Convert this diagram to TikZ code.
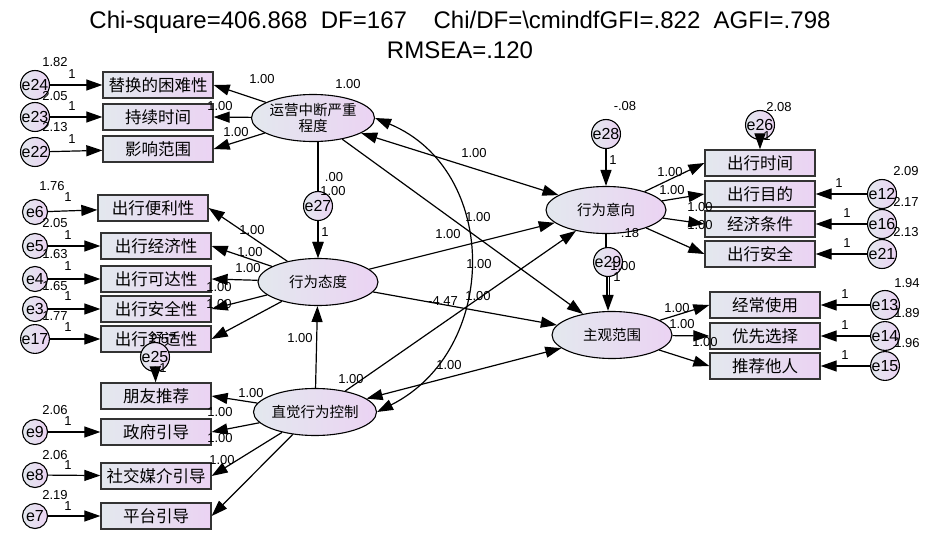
\documentclass[tikz,border=0pt]{standalone}
\usepackage{fontspec}
\setmainfont{Liberation Sans}
\newfontfamily\cjk{Noto Sans CJK SC}
\usetikzlibrary{arrows.meta,shapes.geometric}
\definecolor{gl}{HTML}{E3E8EE}
\definecolor{gr}{HTML}{EBD3F3}
\tikzset{
 x=1pt,y=-1pt,
 box/.style={draw=black!80,line width=1.3pt,minimum width=110,minimum height=26,inner sep=0pt,left color=gl,right color=gr,font=\cjk\fontsize{16.5}{17}\selectfont},
 lat/.style={ellipse,draw,line width=1.1pt,minimum width=120,minimum height=47,inner sep=0pt,align=center,left color=gl,right color=gr,font=\cjk\fontsize{14.5}{16}\selectfont},
 err/.style={circle,draw,line width=1.1pt,minimum size=25,inner sep=0pt,left color=gl,right color=gr,font=\fontsize{16}{16}\selectfont},
 serr/.style={circle,draw,line width=1.1pt,minimum size=15,inner sep=0pt,left color=gl,right color=gr,font=\fontsize{16}{16}\selectfont},
 num/.style={font=\fontsize{13}{13}\selectfont,inner sep=0pt},
 arr/.style={line width=1.2pt,-{Triangle[length=16pt,width=11pt]}},
 darr/.style={line width=1.2pt,{Triangle[length=16pt,width=11pt]}-{Triangle[length=16pt,width=11pt]}}
}
\begin{document}
\begin{tikzpicture}
\useasboundingbox (0,0) rectangle (938,546);
\node[font=\fontsize{24}{24}\selectfont] (t1) at (460,22) {Chi-square=406.868\ \ DF=167\ \ \ \ Chi/DF=\textbackslash cmindfGFI=.822\ \ AGFI=.798};
\node[font=\fontsize{24}{24}\selectfont] (t2) at (460,50) {RMSEA=.120};
% latents
\node[lat] (y1) at (313,118) {运营中断严重\\程度};
\node[lat] (y2) at (318,282) {行为态度};
\node[lat] (y3) at (315,412) {直觉行为控制};
\node[lat] (y4) at (606,210) {行为意向};
\node[lat] (y5) at (612,335) {主观范围};
% boxes
\node[box] (a1) at (158,85) {替换的困难性};
\node[box] (a2) at (158,117) {持续时间};
\node[box] (a3) at (158,149) {影响范围};
\node[box] (b1) at (153,208) {出行便利性};
\node[box] (b2) at (156,246) {出行经济性};
\node[box] (b3) at (156,279) {出行可达性};
\node[box] (b4) at (156,309) {出行安全性};
\node[box] (b5) at (156,339) {出行舒适性};
\node[box] (c1) at (156,396) {朋友推荐};
\node[box] (c2) at (156,432) {政府引导};
\node[box] (c3) at (156,476) {社交媒介引导};
\node[box] (c4) at (156,516) {平台引导};
\node[box] (d1) at (760,163) {出行时间};
\node[box] (d2) at (760,194) {出行目的};
\node[box] (d3) at (760,224) {经济条件};
\node[box] (d4) at (760,254) {出行安全};
\node[box] (f1) at (765,305) {经常使用};
\node[box] (f2) at (765,336) {优先选择};
\node[box] (f3) at (765,366) {推荐他人};
% errors
\foreach \n/\y in {e24/85,e23/117,e22/152,e6/212,e5/246,e4/279,e3/309,e17/339,e9/432,e8/475,e7/516}
  \node[err] (\n) at (35,\y) {\n};
\foreach \n/\y in {e12/194,e16/224,e21/254}
  \node[err] (\n) at (882,\y) {\n};
\foreach \n/\y in {e13/305,e14/336,e15/366}
  \node[err] (\n) at (885,\y) {\n};
\node[serr] (e25) at (155,357) {e25};
\node[serr] (e26) at (760,125) {e26};
\node[err] (e28) at (606,134) {e28};
% error arrows
\foreach \e/\b in {e24/a1,e23/a2,e22/a3,e6/b1,e5/b2,e4/b3,e3/b4,e17/b5,e9/c2,e8/c3,e7/c4,e12/d2,e16/d3,e21/d4,e13/f1,e14/f2,e15/f3,e25/c1,e26/d1}
  \draw[arr] (\e) -- (\b);
% loadings
\foreach \b in {a1,a2,a3} \draw[arr] (y1) -- (\b.east);
\foreach \b in {b1,b2,b3,b4,b5} \draw[arr] (y2) -- (\b.east);
\foreach \b in {c1,c2,c3,c4} \draw[arr] (y3) -- (\b.east);
\foreach \b in {d1,d2,d3,d4} \draw[arr] (y4) -- (\b.west);
\foreach \b in {f1,f2,f3} \draw[arr] (y5) -- (\b.west);
% structural
\draw[arr] (y1.south -| y2.north) -- (y2.north);
\node[err] (e27) at (318,206) {e27};
\draw[arr,line width=1.7pt] (e27) -- (y2);
\draw[arr] (y3) -- (y2);
\draw[darr] (y1) -- (y4);
\draw[arr] (y1) -- (y5);
\draw[arr] (y2) -- (y4);
\draw[arr] (y2) -- (y5);
\draw[arr] (y3) -- (y4);
\draw[darr] (y3) -- (y5);
\draw[darr] (y1.east) .. controls (500,170) and (500,350) .. (y3.east);
\draw[arr] (e28) -- (y4);
\draw[line width=1.2pt] (y4.south -| e28) -- ++(0,20);
\node[err] (e29) at (608,262) {e29};
\draw[arr,line width=1.7pt,double] (e29) -- (e29 |- y5.north);
% numbers
\foreach \t/\x/\y in {1.82/55/62,1/72/74,2.05/55/96,1/72/106,2.13/55/127,1/72/139,1.76/52/186,1/68/197,2.05/55/223,1/68/235,1.63/55/254,1/68/266,1.65/55/286,1/68/296,1.77/55/316,1/68/327,2.06/55/410,1/68/421,2.06/55/455,1/68/465,2.19/55/495,1/68/506,
1.00/262/79,1.00/348/84,1.00/220/106,1.00/236/132,.00/334/177,1.00/333/191,1/325/232,
1.00/252/230,1.00/250/252,1.00/248/268,1.00/219/287,1.00/219/304,2.57/163/339,1/163/368,
1.00/300/338,1.00/351/379,1.00/251/393,1.00/220/412,1.00/220/438,1.00/222/460,
1.00/474/153,1.00/478/217,1.00/448/234,1.00/479/264,-4.47/443/301,1.00/478/296,1.00/449/365,
-.08/625/106,1/613/160,.18/630/233,1.00/623/266,1/617/277,2.08/779/107,1/767/136,
1.00/670/172,1.00/672/190,1.00/700/207,1.00/700/225,1.00/677/308,1.00/682/324,1.00/705/342,
2.09/906/171,2.17/906/202,2.13/906/232,1.94/907/283,1.89/907/313,1.96/907/343,
1/839/183,1/847/213,1/847/243,1/845/294,1/845/325,1/845/355}
  \node[num] at (\x,\y) {\t};
\end{tikzpicture}
\end{document}
